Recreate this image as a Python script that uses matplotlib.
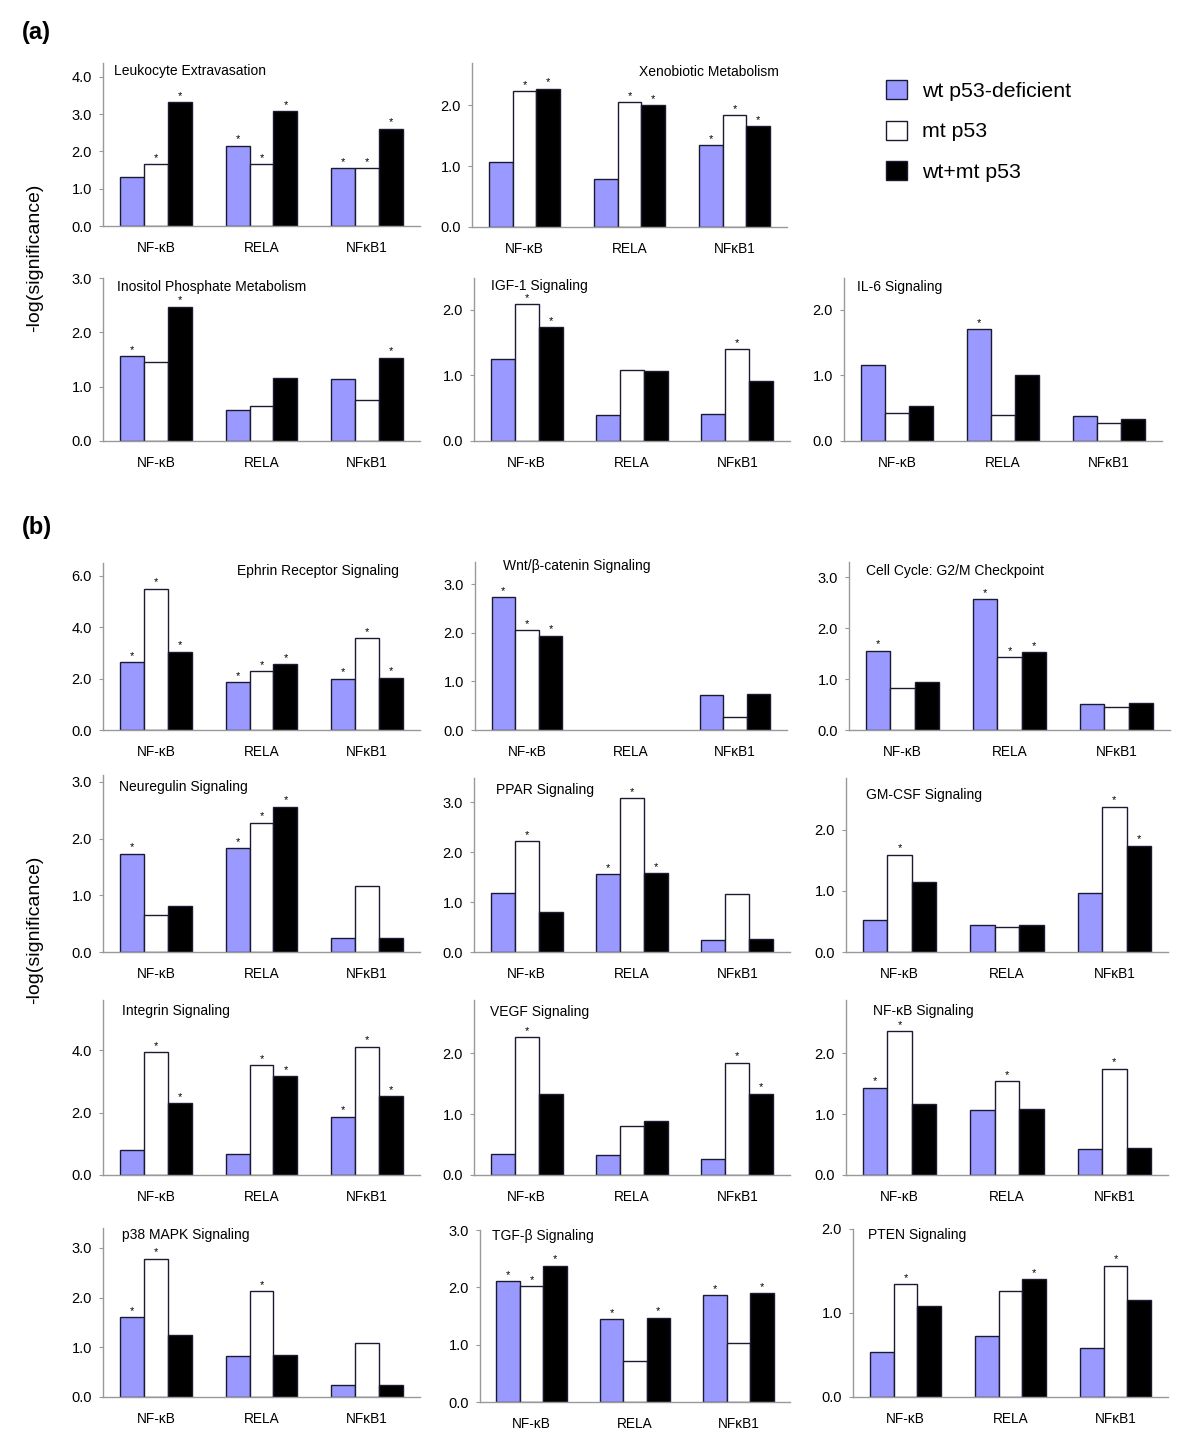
import matplotlib
matplotlib.use("Agg")
import matplotlib.pyplot as plt
from matplotlib.patches import Patch

plt.rcParams["font.family"] = ["Liberation Sans", "DejaVu Sans"]

W, H = 1200, 1448

genes = ["NF-κB", "RELA", "NFκB1"]
series = ["wt p53-deficient", "mt p53", "wt+mt p53"]
colors = ["#9999ff", "#ffffff", "#000000"]

# values: [wt, mt, wt+mt], each over genes; sig: 1 = asterisk
leukocyte = [[1.31, 2.15, 1.55], [1.66, 1.65, 1.55], [3.32, 3.07, 2.61]]
leukocyte_sig = [[0, 1, 1], [1, 1, 1], [1, 1, 1]]
xenobiotic = [[1.07, 0.78, 1.34], [2.23, 2.05, 1.83], [2.27, 2.0, 1.65]]
xenobiotic_sig = [[0, 0, 1], [1, 1, 1], [1, 1, 1]]
inositol = [[1.56, 0.57, 1.14], [1.46, 0.64, 0.76], [2.47, 1.16, 1.53]]
inositol_sig = [[1, 0, 0], [0, 0, 0], [1, 0, 1]]
igf1 = [[1.24, 0.39, 0.41], [2.08, 1.08, 1.40], [1.73, 1.07, 0.92]]
igf1_sig = [[0, 0, 0], [1, 0, 1], [1, 0, 0]]
il6 = [[1.16, 1.70, 0.38], [0.42, 0.39, 0.27], [0.54, 1.0, 0.33]]
il6_sig = [[0, 1, 0], [0, 0, 0], [0, 0, 0]]

ephrin = [[2.64, 1.85, 2.0], [5.5, 2.28, 3.58], [3.05, 2.55, 2.03]]
ephrin_sig = [[1, 1, 1], [1, 1, 1], [1, 1, 1]]
wnt = [[2.73, 0.0, 0.72], [2.06, 0.0, 0.27], [1.94, 0.0, 0.75]]
wnt_sig = [[1, 0, 0], [1, 0, 0], [1, 0, 0]]
cellcycle = [[1.56, 2.57, 0.51], [0.82, 1.43, 0.46], [0.94, 1.53, 0.53]]
cellcycle_sig = [[1, 1, 0], [0, 1, 0], [0, 1, 0]]
neuregulin = [[1.73, 1.83, 0.25], [0.65, 2.28, 1.16], [0.81, 2.56, 0.25]]
neuregulin_sig = [[1, 1, 0], [0, 1, 0], [0, 1, 0]]
ppar = [[1.18, 1.56, 0.24], [2.22, 3.08, 1.16], [0.80, 1.58, 0.27]]
ppar_sig = [[0, 1, 0], [1, 1, 0], [0, 1, 0]]
gmcsf = [[0.53, 0.44, 0.97], [1.59, 0.41, 2.38], [1.15, 0.45, 1.74]]
gmcsf_sig = [[0, 0, 0], [1, 0, 1], [0, 0, 1]]
integrin = [[0.80, 0.68, 1.87], [3.93, 3.52, 4.10], [2.29, 3.16, 2.52]]
integrin_sig = [[0, 0, 1], [1, 1, 1], [1, 1, 1]]
vegf = [[0.34, 0.32, 0.26], [2.26, 0.80, 1.84], [1.33, 0.89, 1.33]]
vegf_sig = [[0, 0, 0], [1, 0, 1], [0, 0, 1]]
nfkb_sig_vals = [[1.43, 1.07, 0.43], [2.36, 1.54, 1.74], [1.16, 1.09, 0.44]]
nfkb_sig_sig = [[1, 0, 0], [1, 1, 1], [0, 0, 0]]
p38 = [[1.61, 0.82, 0.24], [2.78, 2.13, 1.09], [1.24, 0.84, 0.24]]
p38_sig = [[1, 0, 0], [1, 1, 0], [0, 0, 0]]
tgfb = [[2.11, 1.44, 1.86], [2.02, 0.71, 1.03], [2.38, 1.47, 1.90]]
tgfb_sig = [[1, 1, 1], [1, 0, 0], [1, 1, 1]]
pten = [[0.54, 0.73, 0.58], [1.34, 1.26, 1.56], [1.08, 1.40, 1.15]]
pten_sig = [[0, 0, 0], [1, 0, 1], [0, 1, 0]]

# layout: title, data, sig, (left, top, right, bottom) px, ymax, yticks, title (x, y, ha)
panels = [
    ("Leukocyte Extravasation", leukocyte, leukocyte_sig, (103, 63, 420, 226), 4.37, [0, 1, 2, 3, 4], (114, 71, "left")),
    ("Xenobiotic Metabolism", xenobiotic, xenobiotic_sig, (472, 63, 787, 227), 2.69, [0, 1, 2], (779, 72, "right")),
    ("Inositol Phosphate Metabolism", inositol, inositol_sig, (103, 278, 420, 441), 3.0, [0, 1, 2, 3], (117, 287, "left")),
    ("IGF-1 Signaling", igf1, igf1_sig, (474, 278, 790, 441), 2.48, [0, 1, 2], (491, 286, "left")),
    ("IL-6 Signaling", il6, il6_sig, (844, 278, 1162, 441), 2.48, [0, 1, 2], (857, 287, "left")),
    ("Ephrin Receptor Signaling", ephrin, ephrin_sig, (103, 563, 420, 730), 6.5, [0, 2, 4, 6], (399, 571, "right")),
    ("Wnt/β-catenin Signaling", wnt, wnt_sig, (475, 562, 787, 730), 3.46, [0, 1, 2, 3], (503, 566, "left")),
    ("Cell Cycle: G2/M Checkpoint", cellcycle, cellcycle_sig, (849, 562, 1170, 730), 3.3, [0, 1, 2, 3], (866, 571, "left")),
    ("Neuregulin Signaling", neuregulin, neuregulin_sig, (103, 775, 420, 952), 3.12, [0, 1, 2, 3], (119, 787, "left")),
    ("PPAR Signaling", ppar, ppar_sig, (474, 778, 790, 952), 3.48, [0, 1, 2, 3], (496, 790, "left")),
    ("GM-CSF Signaling", gmcsf, gmcsf_sig, (846, 778, 1168, 952), 2.85, [0, 1, 2], (866, 795, "left")),
    ("Integrin Signaling", integrin, integrin_sig, (103, 1000, 420, 1175), 5.6, [0, 2, 4], (122, 1011, "left")),
    ("VEGF Signaling", vegf, vegf_sig, (474, 1000, 790, 1175), 2.87, [0, 1, 2], (490, 1012, "left")),
    ("NF-κB Signaling", nfkb_sig_vals, nfkb_sig_sig, (846, 1000, 1168, 1175), 2.87, [0, 1, 2], (873, 1011, "left")),
    ("p38 MAPK Signaling", p38, p38_sig, (103, 1228, 420, 1397), 3.4, [0, 1, 2, 3], (122, 1235, "left")),
    ("TGF-β Signaling", tgfb, tgfb_sig, (480, 1230, 790, 1402), 3.0, [0, 1, 2, 3], (492, 1236, "left")),
    ("PTEN Signaling", pten, pten_sig, (853, 1229, 1168, 1397), 2.0, [0, 1, 2], (868, 1235, "left")),
]

fig = plt.figure(figsize=(W / 100, H / 100), dpi=100)


def fx(x):
    return x / W


def fy(y):
    return 1 - y / H


bw = 0.227
for title, vals, sig, (l, t, r, b), ymax, yticks, (tx, ty, ha) in panels:
    ax = fig.add_axes([fx(l), fy(b), fx(r) - fx(l), fy(t) - fy(b)])
    for k in range(3):
        xs = [i + (k - 1) * bw for i in range(3)]
        lws = [1.0 if v > 0 else 0 for v in vals[k]]
        ax.bar(xs, vals[k], width=bw, color=colors[k], edgecolor="#1a1a33",
               linewidth=lws, zorder=2)
        for i in range(3):
            if sig[k][i]:
                ax.annotate("*", (xs[i], vals[k][i]), xytext=(0, 1),
                            textcoords="offset points", ha="center", va="bottom",
                            fontsize=8)
    ax.set_xlim(-0.5, 2.5)
    ax.set_ylim(0, ymax)
    ax.set_yticks(yticks)
    ax.set_yticklabels([f"{v:.1f}" for v in yticks], fontsize=10.5)
    ax.set_xticks(range(3))
    ax.set_xticklabels(genes, fontsize=9.8)
    ax.tick_params(axis="x", length=0, pad=11)
    ax.tick_params(axis="y", length=3, color="#999999", pad=5)
    for s in ("top", "right"):
        ax.spines[s].set_visible(False)
    for s in ("left", "bottom"):
        ax.spines[s].set_color("#999999")
        ax.spines[s].set_linewidth(1.0)
    fig.text(fx(tx), fy(ty), title, ha=ha, va="center", fontsize=10)

handles = [Patch(facecolor=c, edgecolor="#1a1a33", linewidth=1.0) for c in colors]
fig.legend(handles, series, loc="upper left", bbox_to_anchor=(fx(867), fy(61)),
           frameon=False, fontsize=15.3, handlelength=1.0, handleheight=1.0,
           labelspacing=0.93, handletextpad=0.7)

fig.text(fx(22), fy(32), "(a)", fontsize=17, fontweight="bold", va="center")
fig.text(fx(22), fy(528), "(b)", fontsize=17, fontweight="bold", va="center")
fig.text(fx(35), fy(258), "-log(significance)", rotation=90, fontsize=14,
         ha="center", va="center")
fig.text(fx(35), fy(930), "-log(significance)", rotation=90, fontsize=14,
         ha="center", va="center")

fig.savefig("out.png", dpi=100)
